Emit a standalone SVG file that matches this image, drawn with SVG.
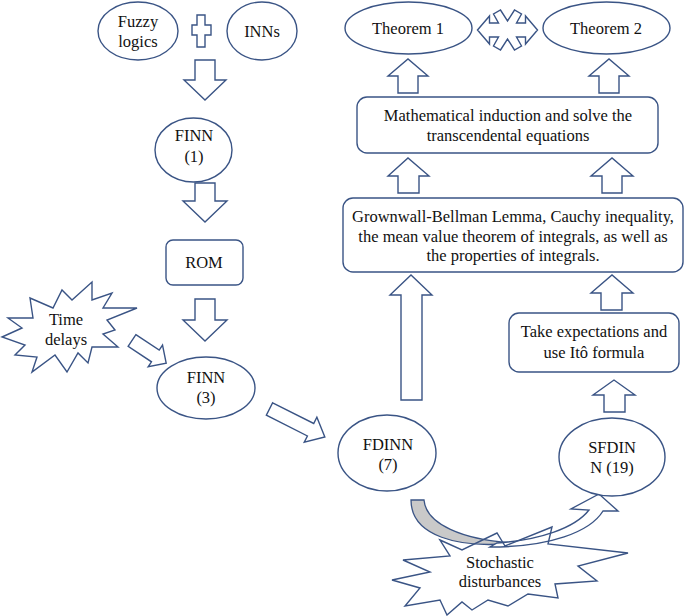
<svg xmlns="http://www.w3.org/2000/svg" width="685" height="616" viewBox="0 0 685 616" font-family="'Liberation Serif','DejaVu Serif',serif">
<style>
.s{fill:#fff;stroke:#3a5485;stroke-width:1.4;stroke-linejoin:miter}
.a{fill:#fff;stroke:#3a5485;stroke-width:1.4;stroke-linejoin:miter}
.t{font-family:'Liberation Serif','DejaVu Serif',serif;font-size:16.5px;fill:#111;text-anchor:middle}
</style>
<rect width="685" height="616" fill="#fff"/>
<g id="connectors">
<path class="a" d="M195,60 L215,60 L215,80 L226,80 L205,100 L184,80 L195,80 Z"/>
<path class="a" d="M195,183 L215,183 L215,201 L227,201 L205,222 L183,201 L195,201 Z"/>
<path class="a" d="M195,299 L215,299 L215,320 L227,320 L205,341 L183,320 L195,320 Z"/>
<path class="a" transform="translate(132,340.5) rotate(33.5)" d="M0,-7 L28,-7 L28,-13 L41,0 L28,13 L28,7 L0,7 Z"/>
<path class="a" transform="translate(269.5,409) rotate(26.8)" d="M0,-7 L46,-7 L46,-14 L62,0 L46,14 L46,7 L0,7 Z"/>
<path class="a" d="M401,400 L401,295 L390,295 L411,275 L432,295 L422,295 L422,400 Z"/>
<path class="a" d="M604,412 L604,395 L593,395 L614,380 L635,395 L625,395 L625,412 Z"/>
<path class="a" d="M601,310 L601,293 L591,293 L612,275 L633,293 L622,293 L622,310 Z"/>
<path class="a" d="M398,193 L398,176 L388,176 L408,158 L429,176 L419,176 L419,193 Z"/>
<path class="a" d="M602,193 L602,176 L591,176 L612,158 L633,176 L622,176 L622,193 Z"/>
<path class="a" d="M398,93 L398,76 L388,76 L408,59 L428,76 L418,76 L418,93 Z"/>
<path class="a" d="M599,93 L599,76 L589,76 L609,59 L629,76 L619,76 L619,93 Z"/>
<path class="a" transform="translate(507.5,30)" d="M-30,0 L-18,-14 L-18,-7 L-9,-7 L-14,-16 L-7,-20 L0,-9 L7,-20 L14,-16 L9,-7 L18,-7 L18,-14 L30,0 L18,14 L18,7 L9,7 L14,16 L7,20 L0,9 L-7,20 L-14,16 L-9,7 L-18,7 L-18,14 Z"/>
<path class="a" d="M197,15 L205,15 L205,25 L211,25 L211,35 L205,35 L205,47 L197,47 L197,35 L192,35 L192,25 L197,25 Z"/>
<path fill="#c9c9c9" stroke="#3a5485" stroke-width="1.3" d="M411,500 L424,500 C426,524 462,540 515,543 C458,549 411,536 411,500 Z"/>
<path class="a" d="M497,543 C540,540 575,528 589,510 L571,509 L599,494 L618,511 L603,511 C590,532 550,547 490,547 Z"/>
</g>
<g id="fuzzy"><ellipse class="s" cx="138" cy="31" rx="40" ry="29"/><text class="t" x="138" y="27">Fuzzy</text><text class="t" x="138" y="47">logics</text></g>
<g id="inns"><ellipse class="s" cx="262" cy="31" rx="35" ry="29"/><text class="t" x="262" y="37">INNs</text></g>
<g id="finn1"><ellipse class="s" cx="193.5" cy="150" rx="38.5" ry="32"/><text class="t" x="194" y="141">FINN</text><text class="t" x="194" y="162">(1)</text></g>
<g id="rom"><rect class="s" x="166" y="240" width="77" height="45" rx="7"/><text class="t" x="204" y="268">ROM</text></g>
<g id="timedelays"><polygon class="s" points="8,318 33,318 30,298 53,308 62,290 72,300 92,282 92,300 112,293 103,308 137,308 107,320 115,330 103,334 118,347 92,347 88,363 78,353 67,372 55,355 32,372 37,357 15,355 25,345 2,337 22,328"/><text class="t" x="66" y="325">Time</text><text class="t" x="66" y="345">delays</text></g>
<g id="finn3"><ellipse class="s" cx="206" cy="388" rx="49" ry="31"/><text class="t" x="206" y="383">FINN</text><text class="t" x="206" y="403">(3)</text></g>
<g id="fdinn"><ellipse class="s" cx="387" cy="453" rx="49" ry="38"/><text class="t" x="388" y="450">FDINN</text><text class="t" x="388" y="470">(7)</text></g>
<g id="sfdinn"><ellipse class="s" cx="612" cy="457" rx="53" ry="39"/><text class="t" x="612" y="453">SFDIN</text><text class="t" x="612" y="473">N (19)</text></g>
<g id="stochastic"><polygon fill="none" stroke="#3a5485" stroke-width="1.4" points="440,540 462,550 497,533 505,546 552,527 548,544 628,553 578,566 597,581 555,584 558,598 528,594 508,606 488,600 472,610 462,602 447,615 440,600 405,606 420,588 392,580 430,572 403,560 450,556"/><text class="t" x="500" y="568">Stochastic</text><text class="t" x="500" y="587">disturbances</text></g>
<g id="expect"><rect class="s" x="509" y="313" width="170" height="59" rx="10"/><text class="t" x="594" y="337">Take expectations and</text><text class="t" x="594" y="358">use Itô formula</text></g>
<g id="grownwall"><rect class="s" x="343" y="198" width="340" height="74" rx="10"/><text class="t" x="513" y="222">Grownwall-Bellman Lemma, Cauchy inequality,</text><text class="t" x="513" y="242">the mean value theorem of integrals, as well as</text><text class="t" x="513" y="261">the properties of integrals.</text></g>
<g id="induction"><rect class="s" x="357" y="97" width="301" height="56" rx="10"/><text class="t" x="508" y="121">Mathematical induction and solve the</text><text class="t" x="508" y="141">transcendental equations</text></g>
<g id="theorem1"><ellipse class="s" cx="408.5" cy="28" rx="63.5" ry="26"/><text class="t" x="408" y="34">Theorem 1</text></g>
<g id="theorem2"><ellipse class="s" cx="606.5" cy="28" rx="63.5" ry="26"/><text class="t" x="606" y="34">Theorem 2</text></g>
</svg>
